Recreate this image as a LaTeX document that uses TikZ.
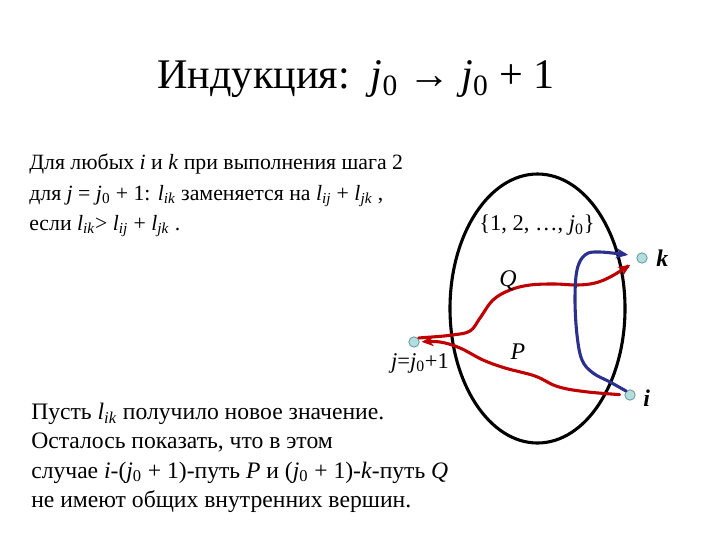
\documentclass[tikz,border=0pt]{standalone}
\usepackage{fontspec}
\setmainfont{Liberation Serif}
\usetikzlibrary{arrows.meta}

\definecolor{pathred}{HTML}{C00000}
\definecolor{pathblue}{HTML}{2B2F8E}
\definecolor{dotfill}{HTML}{B4DEDE}
\definecolor{dotline}{HTML}{6A9A9A}

\newcommand{\lsub}[1]{\textit{l}\textsubscript{\textit{#1}}}
\newcommand{\jnull}{\textit{j}\textsubscript{0}}

\tikzset{
  vertex/.style={circle, draw=dotline, fill=dotfill, line width=0.6pt, inner sep=0pt, minimum size=0.26cm},
  redpath/.style={draw=pathred, line width=2.2pt, line cap=round, -{Stealth[length=0.3cm,width=0.26cm]}},
  bluepath/.style={draw=pathblue, line width=2.2pt, line cap=round, -{Stealth[length=0.3cm,width=0.26cm]}},
  body/.style={inner sep=0pt, align=left, anchor=north west}
}

\begin{document}
\begin{tikzpicture}[x=0.025cm, y=-0.025cm]
  \useasboundingbox (0,0) rectangle (720,540);

  % title
  \node[inner sep=0pt, anchor=base, font=\fontsize{30}{35}\selectfont] (title) at (356,88)
    {Индукция:\ \ \jnull{} → \jnull{} + 1};

  % text
  \node[body, font=\fontsize{15.5}{21.5}\selectfont] (rule) at (29,154)
    {Для любых \textit{i} и \textit{k} при выполнения шага 2\\
     для \textit{j} = \jnull{} + 1: \lsub{ik} заменяется на \lsub{ij} + \lsub{jk} ,\\
     если \lsub{ik}> \lsub{ij} + \lsub{jk} .};
  \node[body, font=\fontsize{16.8}{20.8}\selectfont] (claim) at (31,403)
    {Пусть \lsub{ik} получило новое значение.\\
     Осталось показать, что в этом\\
     случае \textit{i}-(\jnull{} + 1)-путь \textit{P} и (\jnull{} + 1)-\textit{k}-путь \textit{Q}\\
     не имеют общих внутренних вершин.};

  % the set {1,...,j0}
  \draw[line width=2.2pt] (537.5,308.5) ellipse [x radius=87.5, y radius=134.5];
  \node[inner sep=0pt, font=\fontsize{16}{19}\selectfont] (set) at (537,225) {\{1, 2, …, \jnull\}};

  % vertices
  \node[vertex] (j) at (414,342) {};
  \node[vertex] (k) at (642,258) {};
  \node[vertex] (i) at (630,395) {};
  \node[font=\fontsize{17}{20}\selectfont\bfseries\itshape, anchor=west, inner sep=0pt] (klabel) at (656,258) {k};
  \node[font=\fontsize{17}{20}\selectfont\bfseries\itshape, anchor=west, inner sep=0pt] (ilabel) at (643,398) {i};
  \node[font=\fontsize{16}{19}\selectfont, inner sep=0pt, anchor=base] (jlabel) at (420,368) {\textit{j}=\jnull+1};

  % paths
  \draw[redpath, shorten <=0.12cm, shorten >=0.05cm] plot[smooth, tension=0.6] coordinates
    {(i.west) (580,391) (556,386) (535,376) (505,368) (483,360) (460,348) (440,342) (j.east)};
  \draw[redpath, shorten <=0.02cm, shorten >=0.2cm] plot[smooth, tension=0.6] coordinates
    {(j.45) (452,335) (470,331) (480,318) (493,300) (510,290) (530,285) (555,284) (577,285) (595,283) (612,276) (k.205)};
  \draw[bluepath, shorten >=0.22cm] plot[smooth, tension=0.6] coordinates
    {(i.north west) (610,382) (593,373) (582,360) (577,335) (575,300) (577,270) (585,255) (600,252) (k.160)};
  \node[inner sep=0pt, font=\fontsize{17}{20}\selectfont\itshape] (Q) at (508,281) {Q};
  \node[inner sep=0pt, font=\fontsize{17}{20}\selectfont\itshape] (P) at (518,352) {P};
\end{tikzpicture}
\end{document}
